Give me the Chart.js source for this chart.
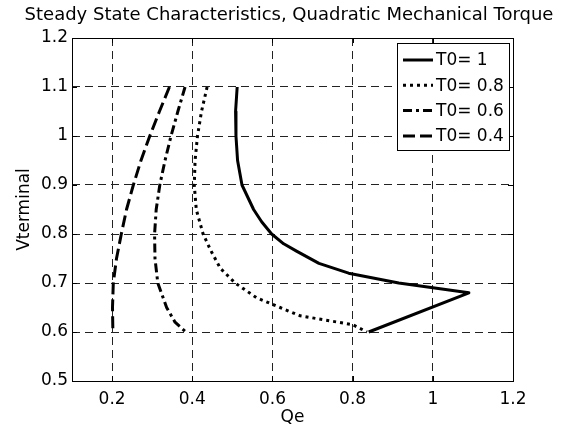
<!DOCTYPE html>
<html>
<head>
<meta charset="utf-8">
<script src="https://cdn.jsdelivr.net/npm/chart.js@4.4.1/dist/chart.umd.min.js"></script>
<style>
html,body{margin:0;padding:0;background:#fff;}
#wrap{width:578px;height:430px;}
</style>
</head>
<body>
<div id="wrap"><canvas id="c" width="578" height="430"></canvas></div>
<script>
// ---- data ----
const seriesLabels = ["T0= 1", "T0= 0.8", "T0= 0.6", "T0= 0.4"];

const v_T1  = [1.10, 1.05, 1.00, 0.95, 0.90, 0.85, 0.825, 0.80, 0.78, 0.765, 0.74, 0.72, 0.70, 0.68, 0.60];
const qe_T1 = [0.512, 0.508, 0.509, 0.513, 0.524, 0.553, 0.573, 0.598, 0.628, 0.660, 0.716, 0.790, 0.915, 1.090, 0.840];

const v_T08  = [1.10, 1.05, 1.00, 0.95, 0.90, 0.85, 0.80, 0.765, 0.73, 0.70, 0.67, 0.65, 0.633, 0.615, 0.60];
const qe_T08 = [0.437, 0.423, 0.413, 0.407, 0.405, 0.410, 0.427, 0.447, 0.470, 0.507, 0.560, 0.619, 0.669, 0.800, 0.836];

const v_T06  = [1.10, 1.05, 1.00, 0.95, 0.90, 0.85, 0.80, 0.75, 0.70, 0.65, 0.62, 0.60];
const qe_T06 = [0.382, 0.364, 0.347, 0.332, 0.319, 0.310, 0.306, 0.307, 0.314, 0.336, 0.357, 0.384];

const v_T04  = [1.10, 1.05, 1.00, 0.95, 0.90, 0.85, 0.80, 0.75, 0.70, 0.65, 0.60];
const qe_T04 = [0.343, 0.318, 0.294, 0.272, 0.253, 0.236, 0.223, 0.211, 0.203, 0.201, 0.202];

const xTicks = [0.2, 0.4, 0.6, 0.8, 1, 1.2];
const xTickLabels = ["0.2", "0.4", "0.6", "0.8", "1", "1.2"];
const yTicks = [0.5, 0.6, 0.7, 0.8, 0.9, 1, 1.1, 1.2];
const yTickLabels = ["0.5", "0.6", "0.7", "0.8", "0.9", "1", "1.1", "1.2"];

const titleText = "Steady State Characteristics, Quadratic Mechanical Torque";
const xTitle = "Qe";
const yTitle = "Vterminal";

// ---- build ----
const FONT = "'DejaVu Sans', 'Liberation Sans', Arial, sans-serif";
function pts(xs, ys){ return xs.map((x,i)=>({x:x, y:ys[i]})); }
const dashes = [[], [3,4], [9,4,3,4], [12,5]];
const allX = [qe_T1, qe_T08, qe_T06, qe_T04];
const allY = [v_T1, v_T08, v_T06, v_T04];

const datasets = seriesLabels.map((lab,i)=>({
  label: lab,
  data: pts(allX[i], allY[i]),
  showLine: true,
  borderColor: '#000',
  backgroundColor: '#000',
  borderWidth: 3,
  borderDash: dashes[i],
  borderCapStyle: 'butt',
  borderJoinStyle: 'round',
  pointRadius: 0,
  pointHoverRadius: 0,
  tension: 0,
  fill: false
}));

const boxPlugin = {
  id: 'boxPlugin',
  afterDatasetsDraw(chart){
    const {ctx, chartArea:a, scales} = chart;
    ctx.save();
    ctx.setLineDash([]);
    ctx.strokeStyle = '#000';
    ctx.lineWidth = 1;
    ctx.strokeRect(Math.round(a.left)+0.5, Math.round(a.top)+0.5, Math.round(a.right-a.left), Math.round(a.bottom-a.top));
    const tl = 5;
    ctx.beginPath();
    xTicks.forEach(v=>{
      const px = Math.round(scales.x.getPixelForValue(v))+0.5;
      ctx.moveTo(px, a.bottom); ctx.lineTo(px, a.bottom-tl);
      ctx.moveTo(px, a.top); ctx.lineTo(px, a.top+tl);
    });
    yTicks.forEach(v=>{
      const py = Math.round(scales.y.getPixelForValue(v))+0.5;
      ctx.moveTo(a.left, py); ctx.lineTo(a.left+tl, py);
      ctx.moveTo(a.right, py); ctx.lineTo(a.right-tl, py);
    });
    ctx.stroke();
    ctx.restore();
  },
  afterDraw(chart){
    // legend box
    const {ctx} = chart;
    const bx = 397, by = 43, bw = 112, bh = 107;
    ctx.save();
    ctx.fillStyle = '#fff';
    ctx.fillRect(bx, by, bw, bh);
    ctx.setLineDash([]);
    ctx.strokeStyle = '#000';
    ctx.lineWidth = 1;
    ctx.strokeRect(bx+0.5, by+0.5, bw, bh);
    ctx.font = "17px " + FONT;
    ctx.textBaseline = 'middle';
    ctx.textAlign = 'left';
    chart.data.datasets.forEach((ds,i)=>{
      const cy = by + 17 + i*25.3;
      ctx.beginPath();
      ctx.setLineDash(ds.borderDash);
      ctx.lineCap = 'butt';
      ctx.lineWidth = 3;
      ctx.moveTo(403, cy); ctx.lineTo(433, cy);
      ctx.stroke();
      ctx.setLineDash([]);
      ctx.fillStyle = '#000';
      ctx.fillText(ds.label, 436, cy+1);
    });
    ctx.restore();
  }
};

new Chart(document.getElementById('c'), {
  type: 'scatter',
  data: { datasets },
  options: {
    responsive: false,
    animation: false,
    devicePixelRatio: 1,
    layout: { padding: 0 },
    plugins: {
      legend: { display: false },
      tooltip: { enabled: false },
      title: {
        display: true,
        text: titleText,
        color: '#000',
        font: { family: FONT, size: 18, weight: 'normal' },
        padding: { top: 5, bottom: 11.4 }
      }
    },
    scales: {
      x: {
        type: 'linear',
        min: 0.1, max: 1.2,
        afterFit(s){ s.height = 49; },
        afterBuildTicks(s){ s.ticks = xTicks.map(v=>({value:v})); },
        ticks: {
          color: '#000',
          font: { family: FONT, size: 17 },
          padding: 8,
          maxRotation: 0,
          callback(v){ const i = xTicks.indexOf(v); return i>=0 ? xTickLabels[i] : ''; }
        },
        grid: { color: '#222', lineWidth: 1, drawTicks: false },
        border: { display: false, dash: [8,5] },
        title: { display: true, text: xTitle, color: '#000', font: { family: FONT, size: 17 }, padding: { top: 0, bottom: 2 } }
      },
      y: {
        type: 'linear',
        position: 'left',
        min: 0.5, max: 1.2,
        afterFit(s){ s.width = 72; },
        afterBuildTicks(s){ s.ticks = yTicks.map(v=>({value:v})); },
        ticks: {
          color: '#000',
          font: { family: FONT, size: 17 },
          padding: 4,
          callback(v){ const i = yTicks.findIndex(t=>Math.abs(t-v)<1e-9); return i>=0 ? yTickLabels[i] : ''; }
        },
        grid: { color: '#222', lineWidth: 1, drawTicks: false },
        border: { display: false, dash: [8,5] },
        title: { display: true, text: yTitle, color: '#000', font: { family: FONT, size: 17 }, padding: { top: 14, bottom: 0 } }
      },
      yRightMargin: {
        type: 'linear',
        position: 'right',
        display: true,
        min: 0, max: 1,
        afterFit(s){ s.width = 65; },
        grid: { display: false, drawTicks: false },
        border: { display: false },
        ticks: { display: false }
      }
    }
  },
  plugins: [boxPlugin]
});
</script>
</body>
</html>
